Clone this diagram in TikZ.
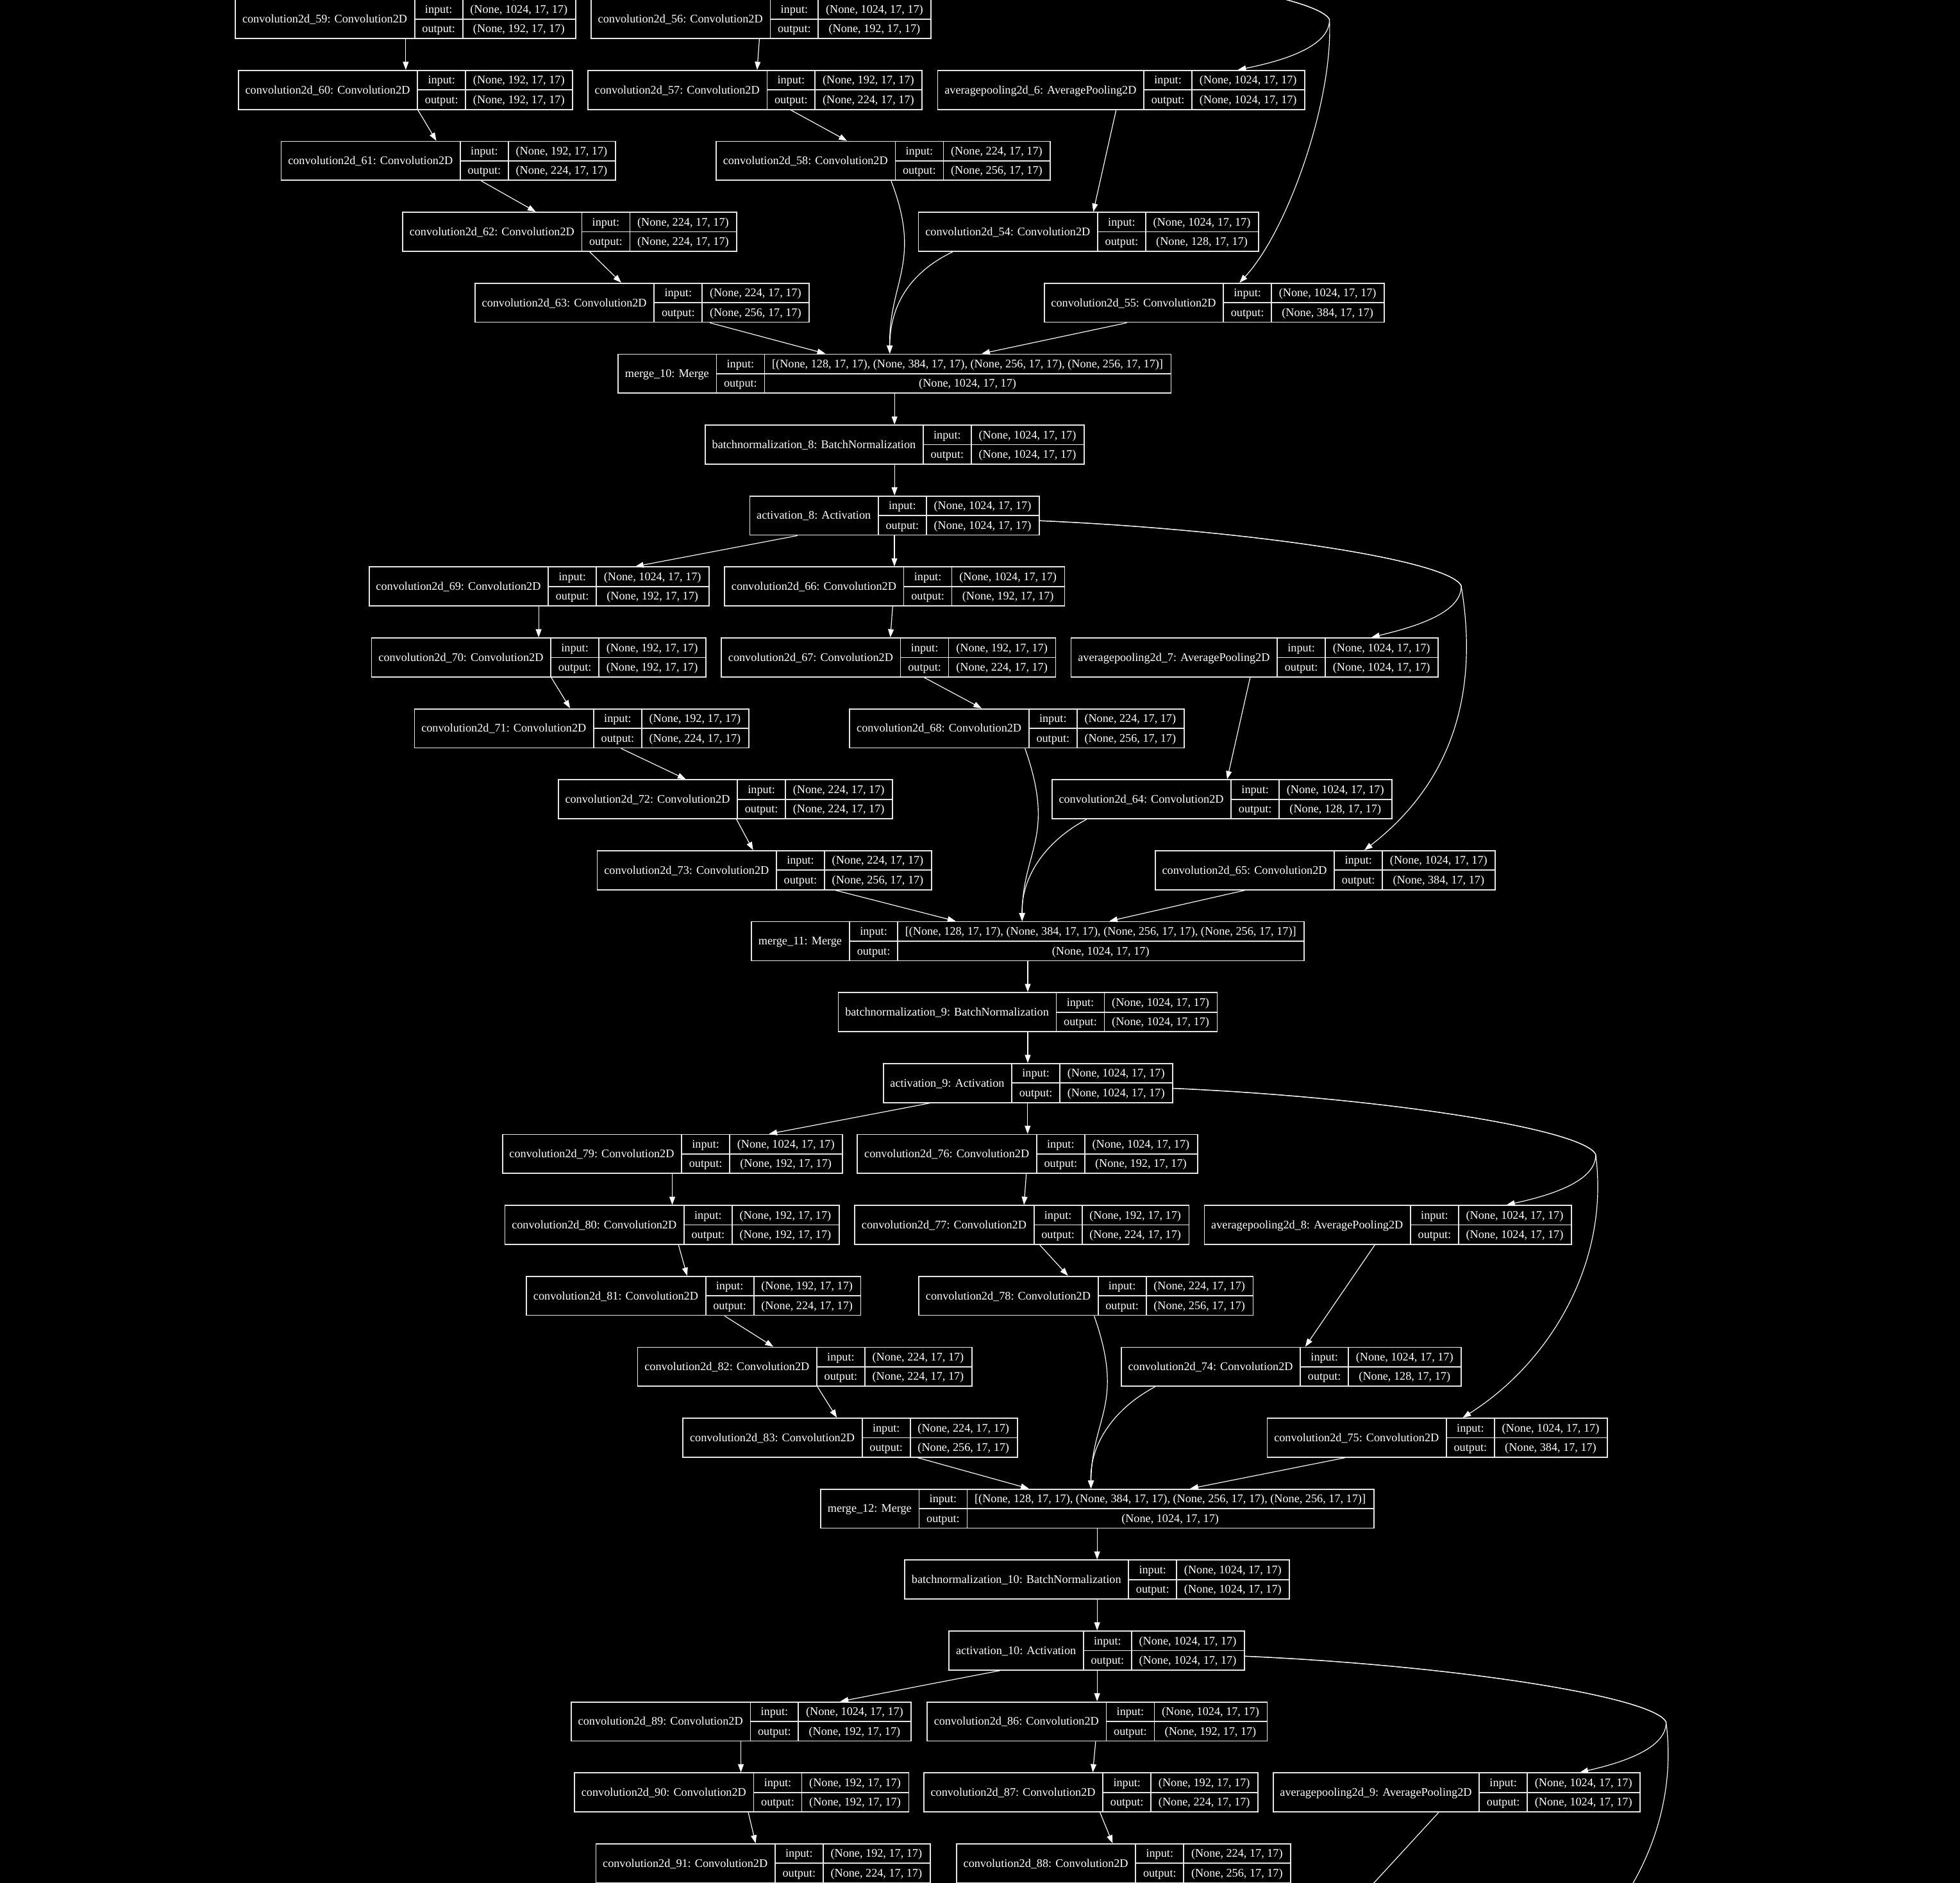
\documentclass[tikz,border=0pt]{standalone}
\usepackage{fontspec}
\setmainfont{Liberation Serif}
\usetikzlibrary{arrows.meta}
\definecolor{boxgray}{gray}{0.9}
\newlength\wA \newlength\wB \newlength\wC \newlength\wT
\newlength\wConv \newlength\wPool \newlength\wBnA \newlength\wBnB
\newlength\wActA \newlength\wActB \newlength\wMerge \newlength\wLab
\newlength\wVbig \newlength\wVsmall \newlength\wVmerge
\newcommand\recfont{\fontsize{9.34}{11}\selectfont}
\newcommand\mergein{[(None, 128, 17, 17), (None, 384, 17, 17), (None, 256, 17, 17), (None, 256, 17, 17)]}
\tikzset{
  recbox/.style={draw=boxgray, line width=0.9pt, inner sep=0pt, minimum height=31.2pt},
  recline/.style={draw=boxgray, line width=0.9pt},
  rectext/.style={text=white, font=\recfont, inner sep=0pt, text height=7pt, text depth=1pt},
  conn/.style={draw=white, line width=0.6pt, -{Triangle[length=6.5pt,width=4.6pt]}},
}
\newcommand\rec[8]{%
  \setlength\wA{#7}\setlength\wB{\wLab}\setlength\wC{#8}%
  \setlength\wT{\wA}\addtolength\wT{\wB}\addtolength\wT{\wC}%
  \node[recbox, minimum width=\wT] (#1) at (#2,{15.2+56.75*#3}) {};
  \draw[recline] ([xshift=\wA]#1.north west) -- ([xshift=\wA]#1.south west);
  \draw[recline] ([xshift=\wA+\wB]#1.north west) -- ([xshift=\wA+\wB]#1.south west);
  \draw[recline] ([xshift=\wA]#1.west) -- (#1.east);
  \node[rectext] (#1-name) at ([xshift=0.5\wA]#1.west) {#4};
  \node[rectext] (#1-li) at ([xshift=\wA+0.5\wB, yshift=7.8pt]#1.west) {input:};
  \node[rectext] (#1-lo) at ([xshift=\wA+0.5\wB, yshift=-7.8pt]#1.west) {output:};
  \node[rectext] (#1-vi) at ([xshift=\wA+\wB+0.5\wC, yshift=7.8pt]#1.west) {#5};
  \node[rectext] (#1-vo) at ([xshift=\wA+\wB+0.5\wC, yshift=-7.8pt]#1.west) {#6};
}
\newcommand\convrec[6]{%
  \ifnum#5=1024 \def\valw{\wVbig}\else\def\valw{\wVsmall}\fi
  \rec{#1}{#2}{#3}{convolution2d\_#4: Convolution2D}{(None, #5, 17, 17)}{(None, #6, 17, 17)}{\wConv}{\valw}}
\newcommand\poolrec[4]{\rec{#1}{#2}{#3}{averagepooling2d\_#4: AveragePooling2D}{(None, 1024, 17, 17)}{(None, 1024, 17, 17)}{\wPool}{\wVbig}}
\newcommand\bnrec[5]{\rec{#1}{#2}{#3}{batchnormalization\_#4: BatchNormalization}{(None, 1024, 17, 17)}{(None, 1024, 17, 17)}{#5}{\wVbig}}
\newcommand\actrec[5]{\rec{#1}{#2}{#3}{activation\_#4: Activation}{(None, 1024, 17, 17)}{(None, 1024, 17, 17)}{#5}{\wVbig}}
\newcommand\mergerec[4]{\rec{#1}{#2}{#3}{merge\_#4: Merge}{\mergein}{(None, 1024, 17, 17)}{\wMerge}{\wVmerge}}
\newcommand\sedge[4]{\draw[conn] (#1.south -| #2,0) -- (#3.north -| #4,0);}
\begin{document}
\settowidth\wConv{\recfont convolution2d\_59: Convolution2D}\addtolength\wConv{12pt}%
\settowidth\wPool{\recfont averagepooling2d\_6: AveragePooling2D}\addtolength\wPool{12pt}%
\settowidth\wBnA{\recfont batchnormalization\_8: BatchNormalization}\addtolength\wBnA{12pt}%
\settowidth\wBnB{\recfont batchnormalization\_10: BatchNormalization}\addtolength\wBnB{12pt}%
\settowidth\wActA{\recfont activation\_8: Activation}\addtolength\wActA{12pt}%
\settowidth\wActB{\recfont activation\_10: Activation}\addtolength\wActB{12pt}%
\settowidth\wMerge{\recfont merge\_10: Merge}\addtolength\wMerge{12pt}%
\settowidth\wLab{\recfont output:}\addtolength\wLab{12pt}%
\settowidth\wVbig{\recfont (None, 1024, 17, 17)}\addtolength\wVbig{12pt}%
\settowidth\wVsmall{\recfont (None, 192, 17, 17)}\addtolength\wVsmall{12pt}%
\settowidth\wVmerge{\recfont \mergein}\addtolength\wVmerge{12pt}%
\begin{tikzpicture}[x=1pt,y=-1pt]
\path[fill=black, use as bounding box] (0,0) rectangle (1568,1506.4);
% ---------- block 1 ----------
\convrec{c59}{324.4}{0}{59}{1024}{192}
\convrec{c56}{608.9}{0}{56}{1024}{192}
\convrec{c60}{324.4}{1}{60}{192}{192}
\convrec{c57}{604}{1}{57}{192}{224}
\poolrec{ap6}{897}{1}{6}
\convrec{c61}{358.6}{2}{61}{192}{224}
\convrec{c58}{706.6}{2}{58}{224}{256}
\convrec{c62}{455.8}{3}{62}{224}{224}
\convrec{c54}{870.8}{3}{54}{1024}{128}
\convrec{c63}{513.7}{4}{63}{224}{256}
\convrec{c55}{971.4}{4}{55}{1024}{384}
\mergerec{m10}{715.7}{5}{10}
\bnrec{bn8}{715.7}{6}{8}{\wBnA}
\actrec{a8}{715.6}{7}{8}{\wActA}
% ---------- block 2 ----------
\convrec{c69}{431.3}{8}{69}{1024}{192}
\convrec{c66}{715.7}{8}{66}{1024}{192}
\convrec{c70}{431}{9}{70}{192}{192}
\convrec{c67}{710.8}{9}{67}{192}{224}
\poolrec{ap7}{1003.7}{9}{7}
\convrec{c71}{465.3}{10}{71}{192}{224}
\convrec{c68}{813.5}{10}{68}{224}{256}
\convrec{c72}{580.3}{11}{72}{224}{224}
\convrec{c64}{977.6}{11}{64}{1024}{128}
\convrec{c73}{611.5}{12}{73}{224}{256}
\convrec{c65}{1060.2}{12}{65}{1024}{384}
\mergerec{m11}{822.2}{13}{11}
\bnrec{bn9}{822.2}{14}{9}{\wBnA}
\actrec{a9}{822.4}{15}{9}{\wActA}
% ---------- block 3 ----------
\convrec{c79}{538}{16}{79}{1024}{192}
\convrec{c76}{822}{16}{76}{1024}{192}
\convrec{c80}{537.6}{17}{80}{192}{192}
\convrec{c77}{817.5}{17}{77}{192}{224}
\poolrec{ap8}{1110.3}{17}{8}
\convrec{c81}{554.9}{18}{81}{192}{224}
\convrec{c78}{868.8}{18}{78}{224}{256}
\convrec{c82}{643.8}{19}{82}{224}{224}
\convrec{c74}{1033}{19}{74}{1024}{128}
\convrec{c83}{680.1}{20}{83}{224}{256}
\convrec{c75}{1149.8}{20}{75}{1024}{384}
\mergerec{m12}{877.8}{21}{12}
\bnrec{bn10}{877.7}{22}{10}{\wBnB}
\actrec{a10}{877.4}{23}{10}{\wActB}
% ---------- block 4 ----------
\convrec{c89}{593}{24}{89}{1024}{192}
\convrec{c86}{877.7}{24}{86}{1024}{192}
\convrec{c90}{593.3}{25}{90}{192}{192}
\convrec{c87}{872.7}{25}{87}{192}{224}
\poolrec{ap9}{1165.3}{25}{9}
\convrec{c91}{610.4}{26}{91}{192}{224}
\convrec{c88}{898.9}{26}{88}{224}{256}
% ---------- off-canvas ends ----------
\coordinate (act7l) at (531.3,-25.8);
\coordinate (act7m) at (608.9,-25.8);
\coordinate (act7r) at (723.8,-36.4);
\coordinate (conv84) at (1076.5,1531);
\coordinate (conv85) at (1226.5,1589);
% ---------- edges block 1 ----------
\draw[conn] (act7l) -- (c59.north -| 404.5,0);
\draw[conn] (act7m) -- (c56.north -| 608.9,0);
\draw[conn] (act7r) .. controls (893,-29) and (1052.5,-4.6) .. (1063.5,15.4)
  .. controls (1064.5,39) and (1019.5,50) .. (ap6.north -| 990.3,0);
\draw[conn] (act7r) .. controls (893,-29) and (1052.5,-4.6) .. (1063.5,15.4)
  .. controls (1067,80) and (1030,185) .. (c55.north -| 991.6,0);
\sedge{c59}{324.6}{c60}{324.6}
\sedge{c56}{607.5}{c57}{605.7}
\sedge{c60}{334.3}{c61}{349.1}
\sedge{c57}{632.6}{c58}{677.6}
\sedge{c61}{385}{c62}{428.6}
\sedge{ap6}{892.9}{c54}{874.6}
\sedge{c62}{471.8}{c63}{497}
\sedge{c63}{567.9}{m10}{660.3}
\sedge{c55}{901.5}{m10}{785.4}
\draw[conn] (c58.south -| 712.9,0) .. controls (738,210) and (711,225) .. (m10.north -| 711.8,0);
\draw[conn] (c54.south -| 762.1,0) .. controls (732,216) and (712,240) .. (m10.north -| 711.8,0);
\sedge{m10}{715.6}{bn8}{715.6}
\sedge{bn8}{715.6}{a8}{715.6}
% ---------- edges block 2 ----------
\sedge{a8}{638}{c69}{508.3}
\sedge{a8}{715.5}{c66}{715.5}
\draw[conn] (a8.east |- 0,416.6) .. controls (1000,424) and (1158,448) .. (1168.9,468.4)
  .. controls (1170,492) and (1125,503) .. (ap7.north -| 1097.2,0);
\draw[conn] (a8.east |- 0,416.6) .. controls (1000,424) and (1158,448) .. (1168.9,468.4)
  .. controls (1186,570) and (1150,635) .. (c65.north -| 1091.5,0);
\sedge{c69}{430.9}{c70}{430.9}
\sedge{c66}{714.1}{c67}{712.3}
\sedge{c70}{441}{c71}{456.1}
\sedge{c67}{739.3}{c68}{785.3}
\sedge{c71}{496.8}{c72}{548.6}
\sedge{ap7}{1000.1}{c64}{981.7}
\sedge{c72}{589.2}{c73}{602.5}
\sedge{c73}{668.4}{m11}{764.5}
\sedge{c65}{995.9}{m11}{887.5}
\draw[conn] (c68.south -| 820,0) .. controls (845,670) and (818,680) .. (m11.north -| 817.7,0);
\draw[conn] (c64.south -| 869.3,0) .. controls (838,672) and (817,700) .. (m11.north -| 817.7,0);
\sedge{m11}{822.2}{bn9}{822.2}
\sedge{bn9}{822.2}{a9}{822.2}
% ---------- edges block 3 ----------
\sedge{a9}{744}{c79}{615.2}
\sedge{a9}{822.1}{c76}{822.1}
\draw[conn] (a9.east |- 0,870.7) .. controls (1106.5,878.1) and (1265.6,903) .. (1276.5,923.4)
  .. controls (1277.5,947) and (1232.5,958) .. (ap8.north -| 1205.3,0);
\draw[conn] (a9.east |- 0,870.7) .. controls (1106.5,878.1) and (1265.6,903) .. (1276.5,923.4)
  .. controls (1288,1010) and (1240,1090) .. (c75.north -| 1170.2,0);
\sedge{c79}{537.8}{c80}{537.8}
\sedge{c76}{821}{c77}{819.2}
\sedge{c80}{542.8}{c81}{549.7}
\sedge{c77}{831.8}{c78}{854.4}
\sedge{c81}{579.6}{c82}{618.7}
\sedge{ap8}{1099.8}{c74}{1044.2}
\sedge{c82}{654}{c83}{669.5}
\sedge{c83}{734.3}{m12}{823.1}
\sedge{c75}{1075.9}{m12}{952.1}
\draw[conn] (c78.south -| 875.3,0) .. controls (900.3,1123.7) and (873.3,1133.7) .. (m12.north -| 872.8,0);
\draw[conn] (c74.south -| 924,0) .. controls (892.7,1126) and (871.7,1154) .. (m12.north -| 872.8,0);
\sedge{m12}{877.7}{bn10}{877.7}
\sedge{bn10}{877.7}{a10}{877.7}
% ---------- edges block 4 ----------
\sedge{a10}{800}{c89}{672.2}
\sedge{a10}{877.7}{c86}{877.7}
\draw[conn] (a10.east |- 0,1325) .. controls (1163.6,1332.4) and (1321.9,1357.1) .. (1332.8,1377.5)
  .. controls (1333.8,1401.1) and (1288.8,1412.1) .. (ap9.north -| 1264,0);
\draw[conn] (a10.east |- 0,1325) .. controls (1163.6,1332.4) and (1321.9,1357.1) .. (1332.8,1377.5)
  .. controls (1344.3,1464.1) and (1296.3,1544.1) .. (conv85);
\sedge{c89}{592.7}{c90}{592.7}
\sedge{c86}{876.5}{c87}{874.2}
\sedge{c90}{598.6}{c91}{604.5}
\sedge{c87}{880}{c88}{890.1}
\draw[conn] (ap9.south -| 1150.9,0) -- (conv84);
\end{tikzpicture}
\end{document}
